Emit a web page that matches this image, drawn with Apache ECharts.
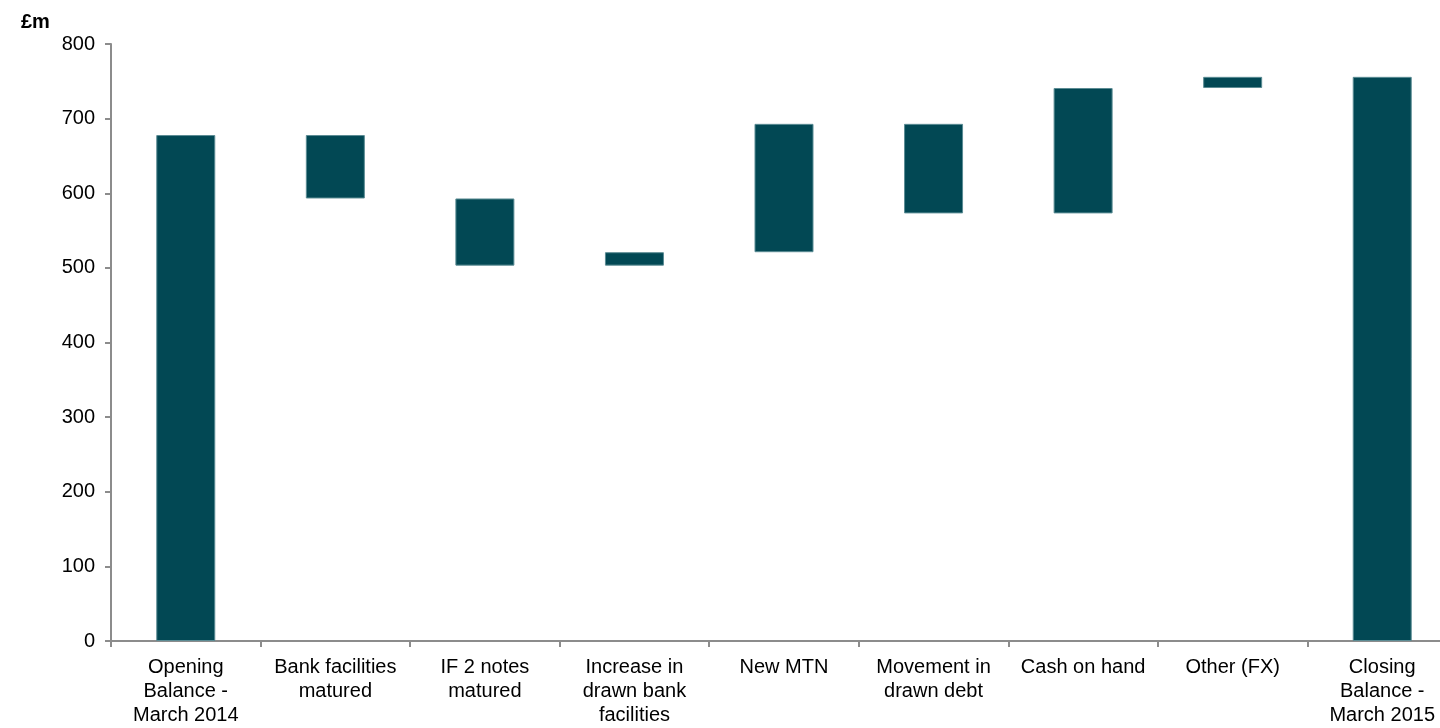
<!DOCTYPE html>
<html>
<head>
<meta charset="utf-8">
<script src="https://cdn.jsdelivr.net/npm/echarts@6/dist/echarts.min.js"></script>
<style>
  html, body { margin: 0; padding: 0; background: #fff; overflow: hidden; width: 1440px; height: 728px; }
  /* the plot runs past the right edge of the picture, as in the original */
  #chart { width: 1460px; height: 728px; }
</style>
</head>
<body>
<div id="chart"></div>
<script>
// categories along the x axis
var categories = [
  "Opening\nBalance -\nMarch 2014",
  "Bank facilities\nmatured",
  "IF 2 notes\nmatured",
  "Increase in\ndrawn bank\nfacilities",
  "New MTN",
  "Movement in\ndrawn debt",
  "Cash on hand",
  "Other (FX)",
  "Closing\nBalance -\nMarch 2015"
];
// invisible base of each floating bar (£m)
var baseValues = [0, 593, 503, 503, 521, 573, 573, 741, 0];
// visible part of each bar (£m)
var barValues = [678, 85, 90, 18, 172, 120, 168, 15, 756];
// y axis ticks
var yMin = 0, yMax = 800, yStep = 100;

var barColor = "#024854";
var axisColor = "#8c8c8c";
var font = "Liberation Sans, Arial, sans-serif";

var chart = echarts.init(document.getElementById("chart"));
chart.setOption({
  animation: false,
  title: {
    text: "£m",
    left: 16,
    top: 7,
    textStyle: { fontFamily: font, fontSize: 20, fontWeight: "bold", color: "#000" }
  },
  grid: { left: 111, right: 3, top: 44, bottom: 87, containLabel: false },
  xAxis: {
    type: "category",
    data: categories,
    axisLine: { lineStyle: { color: axisColor, width: 2 } },
    axisTick: { show: true, length: 6, alignWithLabel: false, lineStyle: { color: axisColor, width: 2 } },
    axisLabel: {
      interval: 0,
      margin: 14,
      fontFamily: font,
      fontSize: 20,
      lineHeight: 24,
      color: "#000"
    }
  },
  yAxis: {
    type: "value",
    min: yMin,
    max: yMax,
    interval: yStep,
    splitLine: { show: false },
    axisLine: { show: true, lineStyle: { color: axisColor, width: 2 } },
    axisTick: { show: true, length: 6, lineStyle: { color: axisColor, width: 2 } },
    axisLabel: { fontFamily: font, fontSize: 20, color: "#000", margin: 16 }
  },
  series: [
    {
      type: "bar",
      stack: "w",
      data: baseValues,
      barWidth: 59,
      itemStyle: { color: "transparent" },
      emphasis: { disabled: true },
      silent: true
    },
    {
      type: "bar",
      stack: "w",
      data: barValues,
      barWidth: 59,
      itemStyle: { color: barColor, borderColor: "#5b8c94", borderWidth: 1 }
    }
  ]
});
</script>
</body>
</html>
